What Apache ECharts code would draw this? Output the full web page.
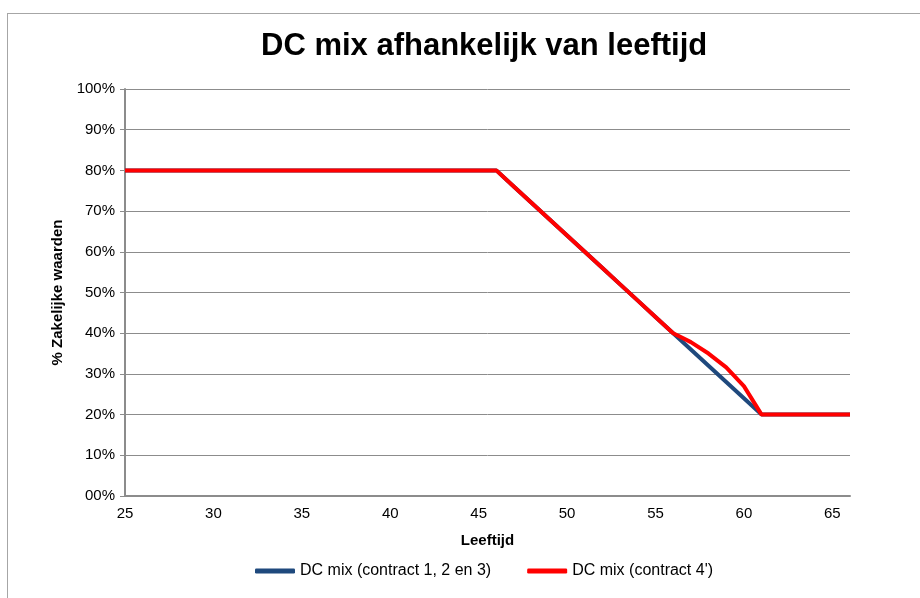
<!DOCTYPE html>
<html>
<head>
<meta charset="utf-8">
<script src="https://cdn.jsdelivr.net/npm/echarts@6/dist/echarts.min.js"></script>
<style>
    html, body { margin: 0; padding: 0; background: #fff; }
    #frame { position: absolute; left: 7px; top: 13px; width: 940px; height: 600px; border: 1px solid #a6a6a6; }
    #chart { position: absolute; left: 0; top: 0; width: 920px; height: 598px; }
</style>
</head>
<body>
<div id="frame"></div>
<div id="chart"></div>
<script>
'use strict';

// ages 25 .. 66
var ages = [25, 26, 27, 28, 29, 30, 31, 32, 33, 34, 35, 36, 37, 38, 39, 40, 41, 42, 43, 44, 45,
    46, 47, 48, 49, 50, 51, 52, 53, 54, 55, 56, 57, 58, 59, 60, 61, 62, 63, 64, 65, 66];

// % zakelijke waarden
var mixContract123 = [80, 80, 80, 80, 80, 80, 80, 80, 80, 80, 80, 80, 80, 80, 80, 80, 80, 80, 80, 80, 80,
    80, 76, 72, 68, 64, 60, 56, 52, 48, 44, 40, 36, 32, 28, 24, 20, 20, 20, 20, 20, 20];
var mixContract4 = [80, 80, 80, 80, 80, 80, 80, 80, 80, 80, 80, 80, 80, 80, 80, 80, 80, 80, 80, 80, 80,
    80, 76, 72, 68, 64, 60, 56, 52, 48, 44, 40, 37.8, 35, 31.6, 27, 20, 20, 20, 20, 20, 20];

var seriesNames = ['DC mix (contract 1, 2 en 3)', "DC mix (contract 4')"];

var font = 'Liberation Sans, Arial, sans-serif';
var chart = echarts.init(document.getElementById('chart'));

chart.setOption({
    animation: false,
    title: {
        text: 'DC mix afhankelijk van leeftijd',
        left: 256,
        top: 26,
        textStyle: { fontFamily: font, fontSize: 31, fontWeight: 'bold', color: '#000' }
    },
    legend: {
        bottom: 14,
        left: 250,
        itemWidth: 40,
        itemHeight: 5,
        itemGap: 36,
        icon: 'roundRect',
        textStyle: { fontFamily: font, fontSize: 16, color: '#000' },
        data: seriesNames
    },
    grid: { left: 125, right: 70, top: 89, bottom: 102 },
    xAxis: {
        type: 'category',
        data: ages,
        boundaryGap: false,
        name: 'Leeftijd',
        nameLocation: 'middle',
        nameGap: 37,
        nameTextStyle: { fontFamily: font, fontSize: 15, fontWeight: 'bold', color: '#000' },
        axisLine: { lineStyle: { color: '#8c8c8c', width: 2 } },
        axisTick: { show: false },
        axisLabel: { interval: 4, margin: 10, fontFamily: font, fontSize: 15, color: '#000' },
        splitLine: { show: false }
    },
    yAxis: {
        type: 'value',
        min: 0,
        max: 100,
        interval: 10,
        name: '% Zakelijke waarden',
        nameLocation: 'middle',
        nameGap: 60,
        nameTextStyle: { fontFamily: font, fontSize: 15, fontWeight: 'bold', color: '#000' },
        axisLine: { show: true, lineStyle: { color: '#8c8c8c', width: 2 } },
        axisTick: { show: true, length: 5, lineStyle: { color: '#8c8c8c' } },
        axisLabel: {
            margin: 10,
            fontFamily: font,
            fontSize: 15,
            color: '#000',
            formatter: function (v) {
                return (v < 10 ? '0' + v : v) + '%';
            }
        },
        splitLine: { lineStyle: { color: '#8c8c8c', width: 1 } }
    },
    series: [
        {
            name: seriesNames[0],
            type: 'line',
            data: mixContract123,
            symbol: 'none',
            lineStyle: { color: '#1f497d', width: 4 },
            itemStyle: { color: '#1f497d' }
        },
        {
            name: seriesNames[1],
            type: 'line',
            data: mixContract4,
            symbol: 'none',
            lineStyle: { color: '#ff0000', width: 4 },
            itemStyle: { color: '#ff0000' }
        }
    ]
});
</script>
</body>
</html>
